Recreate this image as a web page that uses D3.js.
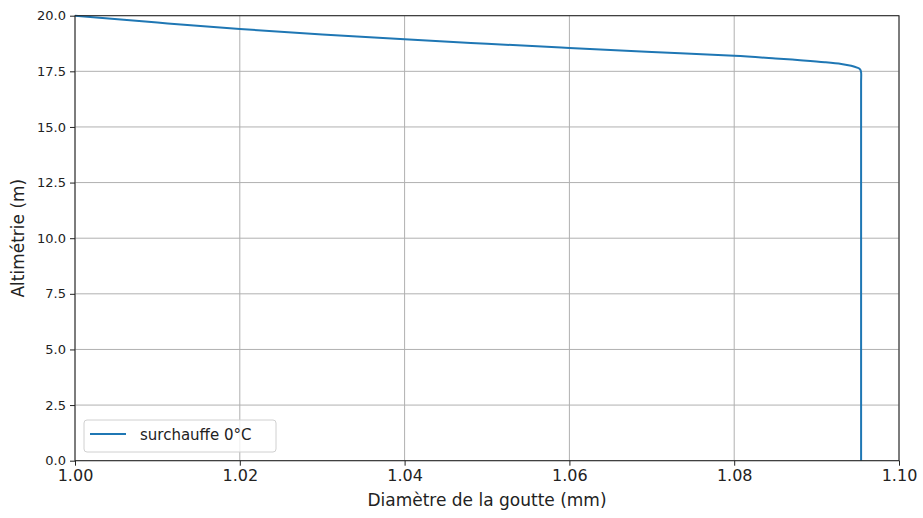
<!DOCTYPE html>
<html><head><meta charset="utf-8">
<script src="https://cdn.jsdelivr.net/npm/d3@7"></script>
<style>body{margin:0;background:#fff}svg{font-family:"DejaVu Sans",sans-serif}</style>
</head><body><svg id="c" width="923" height="518"></svg>
<script>
const diameter = [1.000, 1.010, 1.020, 1.030, 1.040, 1.050, 1.060, 1.070, 1.080, 1.085, 1.088, 1.091, 1.0930, 1.0942, 1.0949, 1.0953, 1.0954, 1.0954, 1.0954];
const altitude = [20.0, 19.69, 19.40, 19.16, 18.94, 18.74, 18.55, 18.37, 18.20, 18.08, 18.00, 17.91, 17.83, 17.75, 17.67, 17.58, 17.45, 17.0, 0.0];
const xTicks = [1.00, 1.02, 1.04, 1.06, 1.08, 1.10];
const yTicks = [0, 2.5, 5, 7.5, 10, 12.5, 15, 17.5, 20];
const seriesName = "surchauffe 0°C";

const svg = d3.select("#c");
const L = 75, R = 899, T = 15.7, B = 460.7;
const x = d3.scaleLinear().domain([1.0, 1.1]).range([L, R]);
const y = d3.scaleLinear().domain([0, 20]).range([B, T]);

// grid
const g = svg.append("g");
g.selectAll(".gx").data(xTicks).join("line")
  .attr("x1", d => x(d)).attr("x2", d => x(d)).attr("y1", T).attr("y2", B)
  .attr("stroke", "#b0b0b0").attr("stroke-width", 1);
g.selectAll(".gy").data(yTicks).join("line")
  .attr("x1", L).attr("x2", R).attr("y1", d => y(d)).attr("y2", d => y(d))
  .attr("stroke", "#b0b0b0").attr("stroke-width", 1);

// line
const pts = diameter.map((d, i) => [d, altitude[i]]);
svg.append("path").datum(pts)
  .attr("fill", "none").attr("stroke", "#1f77b4").attr("stroke-width", 2)
  .attr("stroke-linejoin", "round")
  .attr("d", d3.line().x(d => x(d[0])).y(d => y(d[1])).curve(d3.curveCatmullRom.alpha(0.5)));

// axes
const xa = svg.append("g").attr("transform", `translate(0,${B})`)
  .call(d3.axisBottom(x).tickValues(xTicks).tickFormat(d3.format(".2f")).tickSizeOuter(0).tickSize(5).tickPadding(4));
xa.selectAll("text").attr("font-size", 16).attr("fill", "#222").attr("font-family", "DejaVu Sans");
const ya = svg.append("g").attr("transform", `translate(${L},0)`)
  .call(d3.axisLeft(y).tickValues(yTicks).tickFormat(d3.format(".1f")).tickSizeOuter(0).tickSize(5).tickPadding(4));
ya.selectAll("text").attr("font-size", 13).attr("fill", "#222").attr("font-family", "DejaVu Sans");
svg.selectAll(".domain").remove();
svg.selectAll(".tick line").attr("stroke", "#222");

// frame
svg.append("rect").attr("x", L).attr("y", T).attr("width", R - L).attr("height", B - T)
  .attr("fill", "none").attr("stroke", "#222").attr("stroke-width", 1);

// labels
svg.append("text").attr("x", (L + R) / 2).attr("y", 506).attr("text-anchor", "middle")
  .attr("font-size", 17).attr("fill", "#222").text("Diamètre de la goutte (mm)");
svg.append("text").attr("transform", `translate(24,${(T + B) / 2}) rotate(-90)`).attr("text-anchor", "middle")
  .attr("font-size", 17).attr("fill", "#222").text("Altimétrie (m)");

// legend
const lg = svg.append("g");
lg.append("rect").attr("x", 84).attr("y", 420).attr("width", 192).attr("height", 32).attr("rx", 3)
  .attr("fill", "#fff").attr("fill-opacity", 0.8).attr("stroke", "#d0d0d0");
lg.append("line").attr("x1", 90).attr("x2", 126).attr("y1", 434).attr("y2", 434)
  .attr("stroke", "#1f77b4").attr("stroke-width", 2);
lg.append("text").attr("x", 140).attr("y", 440).attr("font-size", 15).attr("fill", "#222").text(seriesName);
</script></body></html>
